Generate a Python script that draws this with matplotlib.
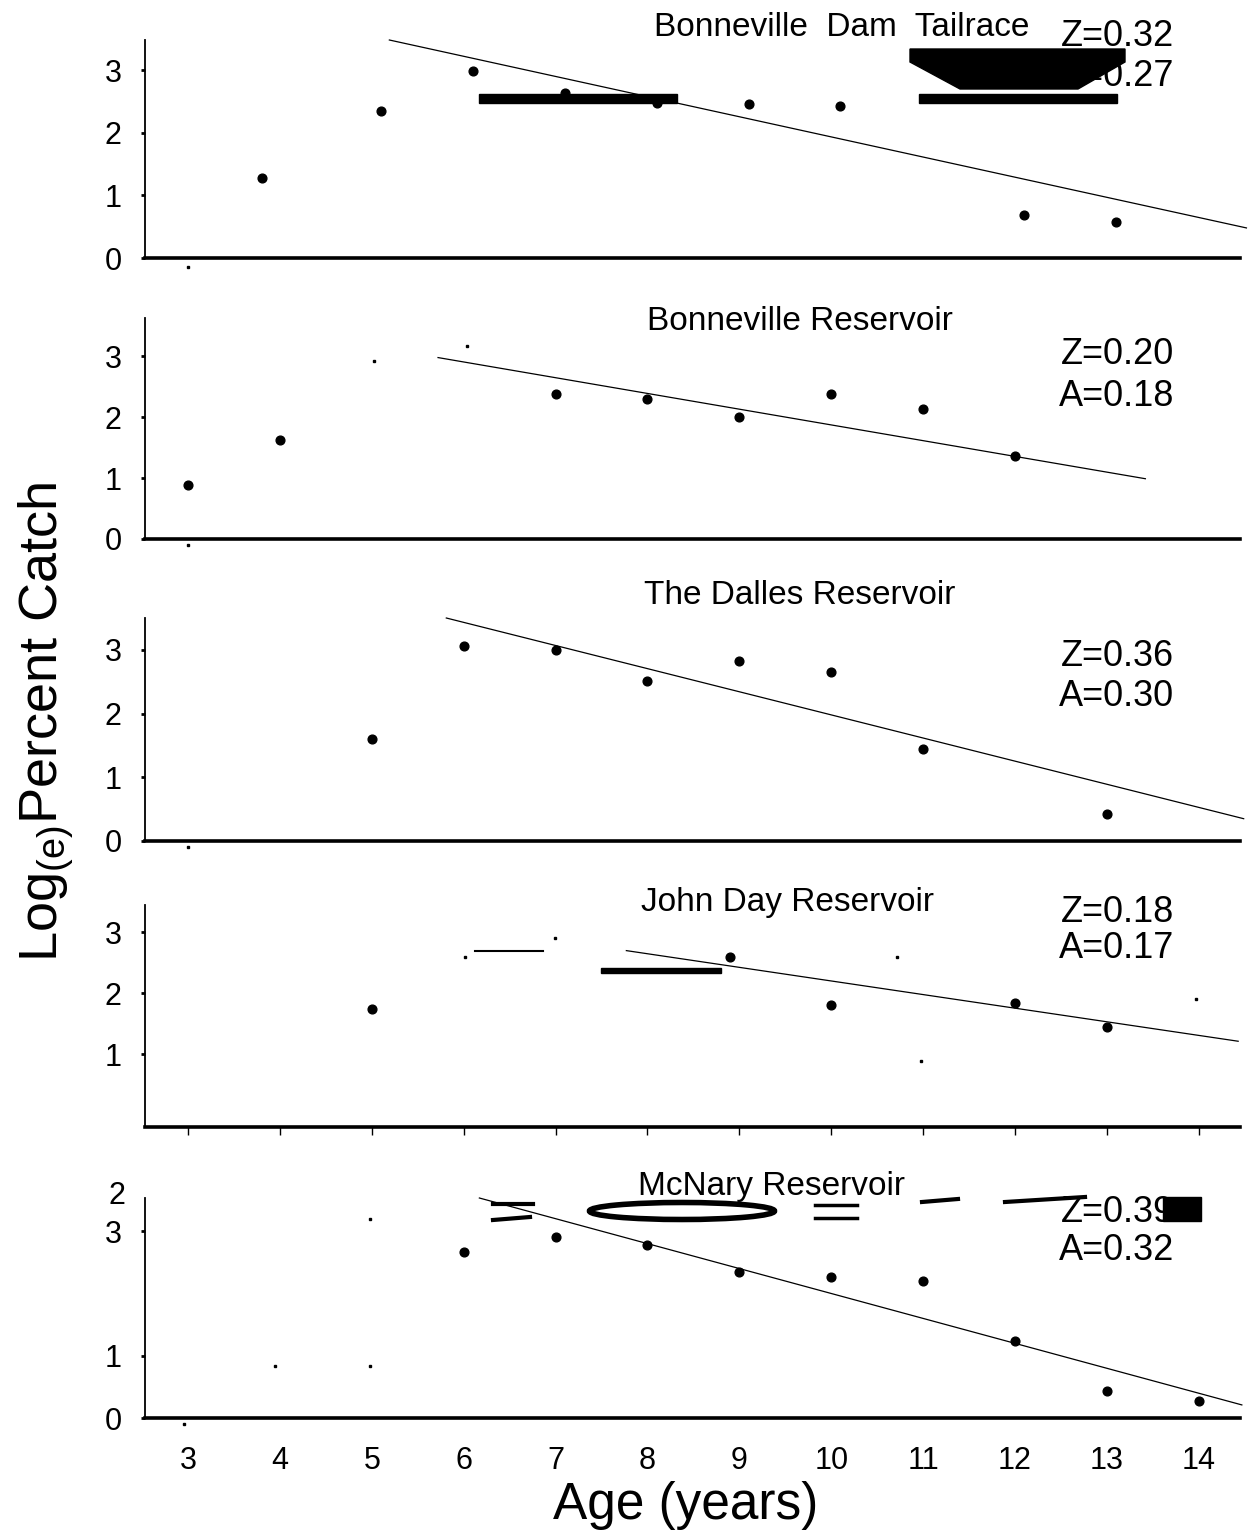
import numpy as np
import matplotlib
matplotlib.use("Agg")
import matplotlib.pyplot as plt
from matplotlib.patches import Polygon, Rectangle, Ellipse

plt.rcParams["font.family"] = ["Liberation Sans", "DejaVu Sans"]
plt.rcParams["mathtext.fontset"] = "custom"
plt.rcParams["mathtext.rm"] = "Liberation Sans"
plt.rcParams["mathtext.it"] = "Liberation Sans"

# ---- data (age in years, log_e percent catch) ----
ages_bdt = [3.8, 5.1, 6.1, 7.1, 8.1, 9.1, 10.1, 12.1, 13.1]
catch_bdt = [1.28, 2.35, 2.99, 2.64, 2.48, 2.46, 2.43, 0.69, 0.57]
fit_x_bdt = [5.19, 14.52]
fit_y_bdt = [3.48, 0.48]

ages_br = [3, 4, 7, 8, 9, 10, 11, 12]
catch_br = [0.89, 1.63, 2.38, 2.30, 2.01, 2.38, 2.13, 1.36]
fit_x_br = [5.72, 13.42]
fit_y_br = [2.98, 0.99]

ages_tdr = [5, 6, 7, 8, 9, 10, 11, 13]
catch_tdr = [1.60, 3.06, 3.00, 2.51, 2.83, 2.66, 1.45, 0.43]
fit_x_tdr = [5.81, 14.49]
fit_y_tdr = [3.50, 0.35]

ages_jdr = [5, 8.9, 10, 12, 13]
catch_jdr = [1.74, 2.60, 1.80, 1.84, 1.45]
fit_x_jdr = [7.77, 14.43]
fit_y_jdr = [2.70, 1.21]

ages_mcr = [6, 7, 8, 9, 10, 11, 12, 13, 14]
catch_mcr = [2.66, 2.91, 2.77, 2.34, 2.27, 2.20, 1.24, 0.44, 0.27]
fit_x_mcr = [6.17, 14.47]
fit_y_mcr = [3.53, 0.21]

# faint specks left in the scan
speck_x = [[3.0], [3.0, 5.02, 6.03], [3.0], [6.01, 6.99, 10.72, 10.98, 13.97],
           [4.98, 3.95, 4.98, 2.95]]
speck_y = [[-0.15], [-0.1, 2.93, 3.17], [-0.1], [2.6, 2.9, 2.6, 0.88, 1.9],
           [3.2, 0.84, 0.84, -0.1]]

titles = ["Bonneville  Dam  Tailrace", "Bonneville Reservoir", "The Dalles Reservoir",
          "John Day Reservoir", "McNary Reservoir"]
z_vals = ["Z=0.32", "Z=0.20", "Z=0.36", "Z=0.18", "Z=0.39"]
a_vals = ["A=0.27", "A=0.18", "A=0.30", "A=0.17", "A=0.32"]
age_ticks = list(range(3, 15))

W, H = 1249, 1537
fig = plt.figure(figsize=(W / 100, H / 100), dpi=100)

# panel pixel extents (top, bottom) and y ranges
rows = [(40, 258), (318, 539), (618, 841), (905, 1127), (1198, 1418)]
ylims = [(0, 3.48), (0, 3.63), (0, 3.50), (-0.2, 3.45), (0, 3.53)]
left_px, right_px = 145, 1240

series = [(ages_bdt, catch_bdt, fit_x_bdt, fit_y_bdt),
          (ages_br, catch_br, fit_x_br, fit_y_br),
          (ages_tdr, catch_tdr, fit_x_tdr, fit_y_tdr),
          (ages_jdr, catch_jdr, fit_x_jdr, fit_y_jdr),
          (ages_mcr, catch_mcr, fit_x_mcr, fit_y_mcr)]

axes = []
for i, ((top, bot), (ax_, cy, fx, fy)) in enumerate(zip(rows, series)):
    ax = fig.add_axes([left_px / W, 1 - bot / H, (right_px - left_px) / W, (bot - top) / H])
    ax.plot(ax_, cy, "o", color="black", ms=6.3, clip_on=False)
    ax.plot(fx, fy, "-", color="black", lw=0.9, clip_on=False)
    ax.plot(speck_x[i], speck_y[i], "s", color="black", ms=1.6, clip_on=False)
    ax.set_xlim(2.53, 14.45)
    ax.set_ylim(*ylims[i])
    for s in ["top", "right"]:
        ax.spines[s].set_visible(False)
    ax.spines["bottom"].set_linewidth(2.6)
    ax.spines["left"].set_linewidth(1.3)
    ax.set_xticks(age_ticks)
    ax.tick_params(axis="y", direction="out", length=3, width=2, labelsize=22, pad=14)
    if i == 4:
        ax.tick_params(axis="x", length=0, labelsize=22, pad=20)
    else:
        ax.tick_params(axis="x", length=6 if i == 3 else 0, width=1, labelbottom=False)
    axes.append(ax)

axes[0].set_yticks([0, 1, 2, 3])
axes[1].set_yticks([0, 1, 2, 3])
axes[2].set_yticks([0, 1, 2, 3])
axes[3].set_yticks([1, 2, 3])
axes[4].set_yticks([0, 1, 3])

# overlay in pixel coordinates for labels and scan blotches
ov = fig.add_axes([0, 0, 1, 1], zorder=10)
ov.set_xlim(0, W)
ov.set_ylim(H, 0)
ov.axis("off")
ov.patch.set_alpha(0)

title_pos = [(842, 27), (800, 322), (800, 596), (788, 902), (772, 1186)]
z_pos = [37, 355, 656, 912, 1212]
a_pos = [77, 396, 697, 948, 1250]
for i in range(5):
    ov.text(*title_pos[i], titles[i], ha="center", va="center", fontsize=24)
    ov.text(1174, z_pos[i], z_vals[i], ha="right", va="center", fontsize=26)
    ov.text(1174, a_pos[i], a_vals[i], ha="right", va="center", fontsize=26)

# stray "2" printed over the top of the last panel's axis
ov.text(125, 1196, "2", ha="right", va="center", fontsize=22)

# blotches from the scan
ov.add_patch(Polygon([(910, 49), (1125, 49), (1125, 62), (1078, 89), (960, 89), (910, 62)],
                     closed=True, color="black"))
ov.add_patch(Rectangle((479, 94), 198, 9, color="black"))
ov.add_patch(Rectangle((919, 94), 198, 9, color="black"))
ov.plot([475, 543], [951, 951], color="black", lw=1.5)
ov.add_patch(Rectangle((601, 968), 120, 5, color="black"))
ov.add_patch(Rectangle((1163, 1197), 38, 24, color="black"))
ov.add_patch(Ellipse((682, 1211), 185, 17, fill=False, ec="black", lw=4))
ov.plot([815, 857], [1205, 1205], color="black", lw=2.5)
ov.plot([815, 857], [1218, 1218], color="black", lw=2.5)
ov.plot([493, 533], [1204, 1204], color="black", lw=3)
ov.plot([493, 530], [1220, 1217], color="black", lw=3)
ov.plot([922, 958], [1202, 1199], color="black", lw=3)
ov.plot([1005, 1085], [1202, 1197], color="black", lw=3)

ov.text(46, 722, r"Log$_{\mathrm{(e)}}$Percent Catch", rotation=90, ha="center", va="center",
        fontsize=39)
ov.text(686, 1505, "Age (years)", ha="center", va="center", fontsize=37)

fig.savefig("out.png", dpi=100)
